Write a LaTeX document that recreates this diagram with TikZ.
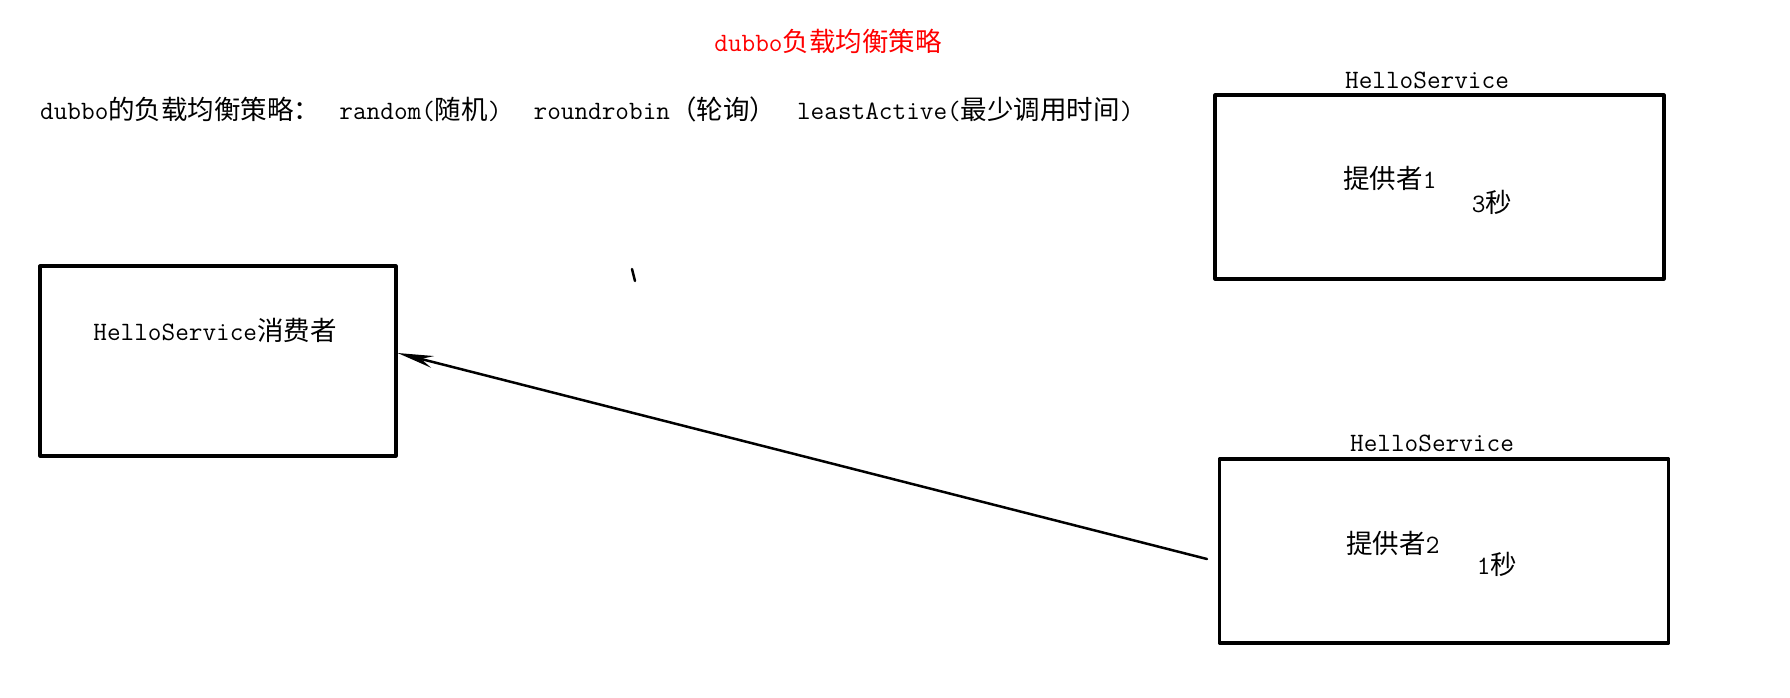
\documentclass[tikz,border=0pt]{standalone}
\usepackage{fontspec}
\newfontfamily\cjk{Noto Sans CJK SC}
\newcommand\zh[1]{{\cjk #1}}
\usetikzlibrary{arrows.meta,positioning}
\begin{document}
\begin{tikzpicture}[x=1pt, y=-1pt, line join=round, line cap=round,
	font=\fontsize{26.5}{30}\selectfont\ttfamily,
	box/.style={draw, line width=3.2pt, minimum width=449pt, minimum height=184pt, inner sep=0pt},
	txt/.style={inner sep=0pt}]
		\useasboundingbox (0,0) rectangle (1790,697);
		\node[txt, red] (title) at (828,41) {dubbo\zh{负载均衡策略}};
		\node[txt, anchor=west] (rule) at (40,109)
			{dubbo\zh{的负载均衡策略：}\hspace{19pt}random(\zh{随机})\hspace{32pt}roundrobin\zh{（轮询）}\hspace{21pt}leastActive(\zh{最少调用时间})};
		\node[box] (p1) at (1439.5,187) {};
		\node[box] (p2) at (1444,551) {};
		\node[box, minimum width=356pt, minimum height=190pt] (cons) at (218,361) {};
		\node[txt] (s1) at (1427,80) {HelloService};
		\node[txt] (s2) at (1432,443) {HelloService};
		\node[txt] (n1) at (1390,178) {\zh{提供者}1};
		\node[txt] (t1) at (1492,202) {3\zh{秒}};
		\node[txt] (n2) at (1393,543) {\zh{提供者}2};
		\node[txt] (t2) at (1497,564) {1\zh{秒}};
		\node[txt] (c) at (215,330) {HelloService\zh{消费者}};
		\coordinate (tail) at (1207,559);
		\draw[line width=2.5pt, -{Stealth[length=36pt, width=12pt, inset=12pt]}] (tail) -- ([yshift=8pt]cons.east);
		\draw[line width=2.5pt] (632,269) -- (635,281);
		\end{tikzpicture}
\end{document}
